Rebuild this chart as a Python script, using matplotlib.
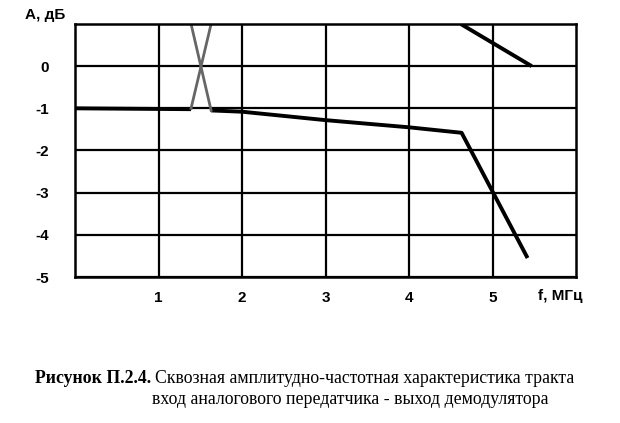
import matplotlib.pyplot as plt

# main response curve (f in MHz, A in dB)
f_flat = [0.0, 1.39]
a_flat = [-1.0, -1.02]
f_main = [1.63, 2.0, 3.0, 4.0, 4.63, 5.42]
a_main = [-1.05, -1.08, -1.28, -1.45, -1.58, -4.55]

# crossing pair near 1.5 MHz
f_cross = [1.39, 1.63]
a_up = [-1.0, 1.0]
a_down = [1.0, -1.05]

# upper right branch
f_top = [4.62, 5.47]
a_top = [1.0, 0.0]

x_ticks = [1, 2, 3, 4, 5]
y_ticks = [0, -1, -2, -3, -4, -5]

fig = plt.figure(figsize=(6.2, 4.23), dpi=100)
ax = fig.add_axes([75 / 620, 1 - 277 / 423, 501 / 620, 253 / 423])

ax.set_xlim(0, 6)
ax.set_ylim(-5, 1)
ax.set_xticks(x_ticks)
ax.set_yticks(y_ticks)
ax.set_xticklabels([str(t) for t in x_ticks])
ax.set_yticklabels([str(t) for t in y_ticks])
ax.tick_params(length=0, labelsize=11, pad=10)
ax.tick_params(axis='y', pad=19)
for lab in ax.get_xticklabels() + ax.get_yticklabels():
    lab.set_fontweight('bold')
    lab.set_family('Liberation Sans')

ax.grid(True, color='black', linewidth=1.6)
for s in ax.spines.values():
    s.set_linewidth(1.8)

ax.plot(f_flat, a_flat, color='black', linewidth=2.8, solid_capstyle='butt')
ax.plot(f_main, a_main, color='black', linewidth=2.8, solid_capstyle='butt')
ax.plot(f_top, a_top, color='black', linewidth=2.8, solid_capstyle='butt')
ax.plot(f_cross, a_up, color='#666666', linewidth=2.0)
ax.plot(f_cross, a_down, color='#666666', linewidth=2.0)

fig.text(25 / 620, 1 - 15 / 423, 'А, дБ', fontsize=11, fontweight='bold',
         family='Liberation Sans', va='center', ha='left')
fig.text(538 / 620, 1 - 296 / 423, 'f, МГц', fontsize=11, fontweight='bold',
         family='Liberation Sans', va='center', ha='left')

# caption
cap_y1 = 1 - 378 / 423
cap_y2 = 1 - 399 / 423
t1 = fig.text(35 / 620, cap_y1, 'Рисунок П.2.4.', fontsize=12.8, fontweight='bold',
              family='Liberation Serif', va='center', ha='left')
fig.canvas.draw()
bb = t1.get_window_extent()
fig.text(bb.x1 / 620 + 4 / 620, cap_y1,
         'Сквозная амплитудно-частотная характеристика тракта',
         fontsize=12.8, family='Liberation Serif', va='center', ha='left')
fig.text(152 / 620, cap_y2, 'вход аналогового передатчика - выход демодулятора',
         fontsize=12.8, family='Liberation Serif', va='center', ha='left')

fig.savefig('out.png', dpi=100)
